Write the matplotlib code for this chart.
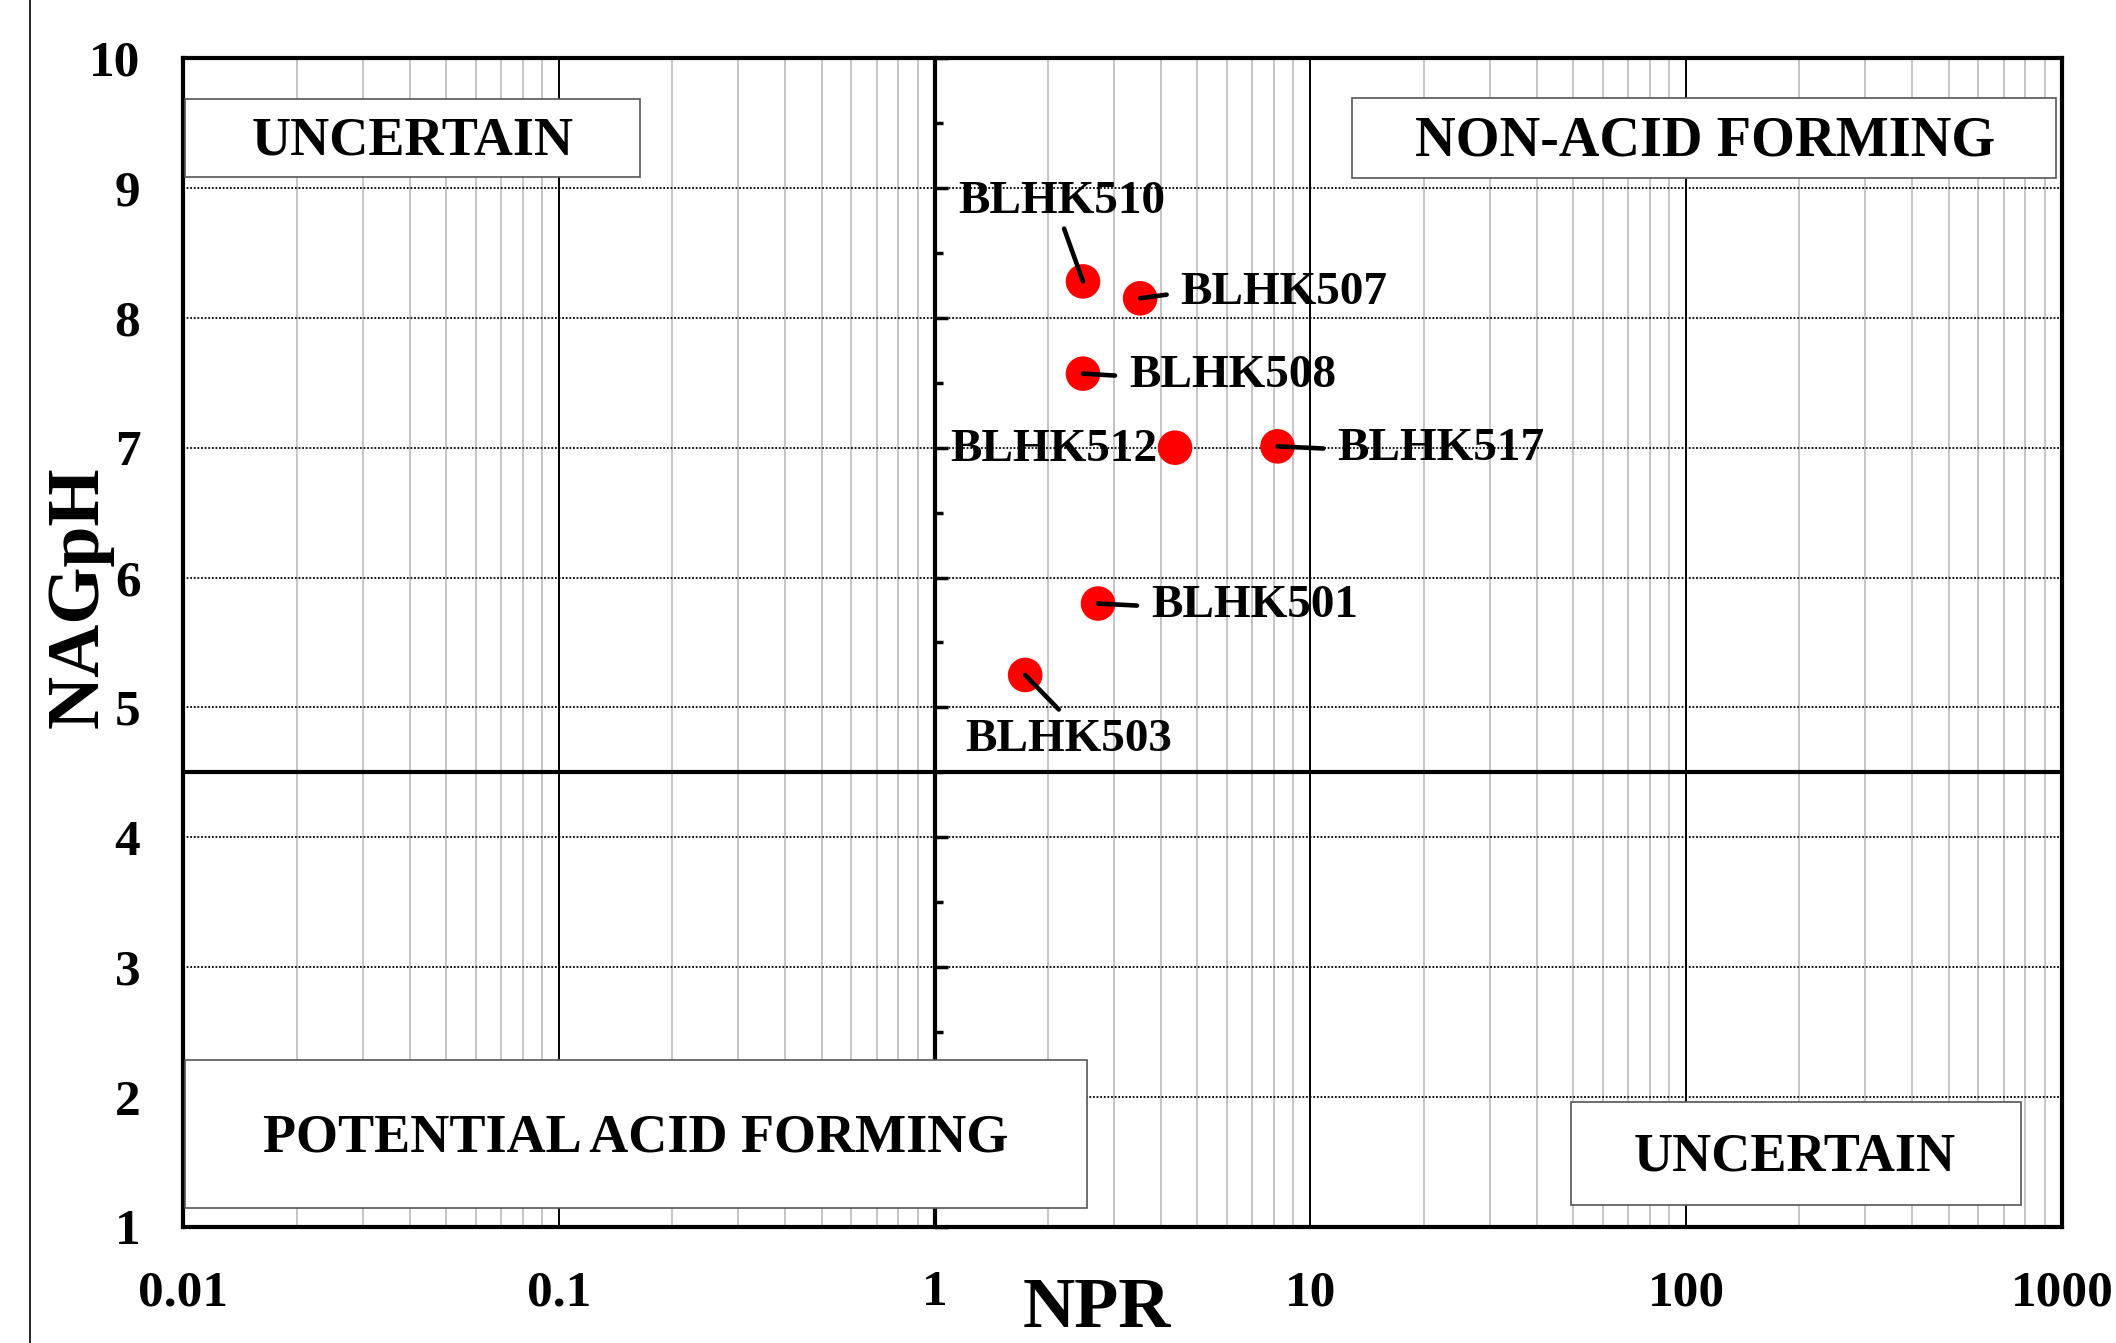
import matplotlib.pyplot as plt
from matplotlib.patches import Rectangle
from matplotlib.lines import Line2D
from matplotlib.ticker import LogLocator, MultipleLocator, NullFormatter, NullLocator

plt.rcParams['font.family'] = ['Liberation Serif', 'DejaVu Serif']
plt.rcParams['font.weight'] = 'bold'

# NAG pH vs net potential ratio per sample
samples = ['BLHK510', 'BLHK507', 'BLHK508', 'BLHK512', 'BLHK517', 'BLHK501', 'BLHK503']
npr = [2.48, 3.52, 2.48, 4.36, 8.17, 2.72, 1.74]
nag_ph = [8.28, 8.15, 7.57, 7.0, 7.01, 5.80, 5.25]

x_ticks = [0.01, 0.1, 1, 10, 100, 1000]
x_tick_labels = ['0.01', '0.1', '1', '10', '100', '1000']
y_ticks = list(range(1, 11))

npr_limit = 1
nag_limit = 4.5

# label placement: text offset (pt), ha, va, leader start on text, gap, leader?
label_layout = {
    'BLHK510': ((-15, 57), 'center', 'center', (0.5, 0), 2, True),
    'BLHK507': ((29, 4), 'left', 'center', (0, 0.5), 8, True),
    'BLHK508': ((33, -2), 'left', 'center', (0, 0.5), 8, True),
    'BLHK512': ((-13, -2), 'right', 'center', (1, 0.5), 0, False),
    'BLHK517': ((43, -2), 'left', 'center', (0, 0.5), 8, True),
    'BLHK501': ((38, -2), 'left', 'center', (0, 0.5), 8, True),
    'BLHK503': ((31, -47), 'center', 'center', (0.5, 1), 7, True),
}

# zone boxes in axes fraction: (x0, y0, x1, y1), text, text centre, size
zones = [
    ((0.001, 0.898, 0.243, 0.965), 'UNCERTAIN', (0.122, 0.929), 39),
    ((0.622, 0.897, 0.997, 0.966), 'NON-ACID FORMING', (0.810, 0.929), 40.5),
    ((0.001, 0.016, 0.481, 0.143), 'POTENTIAL ACID FORMING', (0.241, 0.076), 39),
    ((0.7385, 0.0185, 0.978, 0.107), 'UNCERTAIN', (0.858, 0.059), 39),
]

fig = plt.figure(figsize=(21.16, 13.43), dpi=100)
pos = [0.0867, 0.0864, 0.8877, 0.8704]

# base axes: grid, frame and tick labels
ax = fig.add_axes(pos)
ax.set_xscale('log')
ax.set_xlim(0.01, 1000)
ax.set_ylim(1, 10)
ax.set_xticks(x_ticks)
ax.set_xticklabels(x_tick_labels)
ax.xaxis.set_minor_locator(LogLocator(base=10, subs=range(2, 10)))
ax.xaxis.set_minor_formatter(NullFormatter())
ax.set_yticks(y_ticks)
ax.yaxis.set_minor_locator(NullLocator())
ax.grid(which='minor', axis='x', color='#b5b5b5', lw=1.1)
ax.grid(which='major', axis='x', color='black', lw=1.4)
ax.grid(which='major', axis='y', color='black', lw=1.3, linestyle=(0, (1, 1)))
ax.tick_params(axis='both', which='both', length=0, labelsize=37)
ax.tick_params(axis='x', pad=31)
ax.tick_params(axis='y', pad=31)
for sp in ax.spines.values():
    sp.set_linewidth(3)

# overlay axes: y axis crossing at NPR = 1, points, labels, zone boxes
ax2 = fig.add_axes(pos, facecolor='none')
ax2.set_xscale('log')
ax2.set_xlim(0.01, 1000)
ax2.set_ylim(1, 10)
for side in ['top', 'right', 'bottom']:
    ax2.spines[side].set_visible(False)
ax2.spines['left'].set_position(('data', npr_limit))
ax2.spines['left'].set_linewidth(3)
ax2.xaxis.set_major_locator(NullLocator())
ax2.xaxis.set_minor_locator(NullLocator())
ax2.yaxis.set_major_locator(MultipleLocator(1))
ax2.yaxis.set_minor_locator(MultipleLocator(0.5))
ax2.tick_params(axis='y', which='major', direction='in', length=9, width=2.5, labelleft=False)
ax2.tick_params(axis='y', which='minor', direction='in', length=6, width=2.5)

ax2.axhline(nag_limit, color='black', lw=3, zorder=2)

ax2.scatter(npr, nag_ph, s=620, color='#ff0000', edgecolors='none', zorder=3)

for name, x, y in zip(samples, npr, nag_ph):
    (dx, dy), ha, va, rel, gap, leader = label_layout[name]
    arrow = None
    if leader:
        arrow = dict(arrowstyle='-', color='black', lw=3.3, shrinkA=gap, shrinkB=0, relpos=rel)
    ax2.annotate(name, (x, y), xytext=(dx, dy), textcoords='offset points',
                 ha=ha, va=va, fontsize=34, fontweight='bold', arrowprops=arrow, zorder=5)

for (x0, y0, x1, y1), txt, (tx, ty), size in zones:
    ax2.add_patch(Rectangle((x0, y0), x1 - x0, y1 - y0, transform=ax2.transAxes,
                            facecolor='white', edgecolor='#555555', lw=1.2, zorder=6))
    ax2.text(tx, ty, txt, transform=ax2.transAxes, ha='center', va='center',
             fontsize=size, fontweight='bold', zorder=7)

# axis titles
fig.text(0.5185, 0.012, 'NPR', ha='center', va='baseline', fontsize=52, fontweight='bold')
fig.text(0.0377, 0.5555, 'NAGpH', ha='center', va='center', rotation=90, fontsize=53, fontweight='bold')

fig.add_artist(Line2D([0.014, 0.014], [0, 1], transform=fig.transFigure, color='black', lw=1.2))

fig.savefig('out.png', dpi=100)
